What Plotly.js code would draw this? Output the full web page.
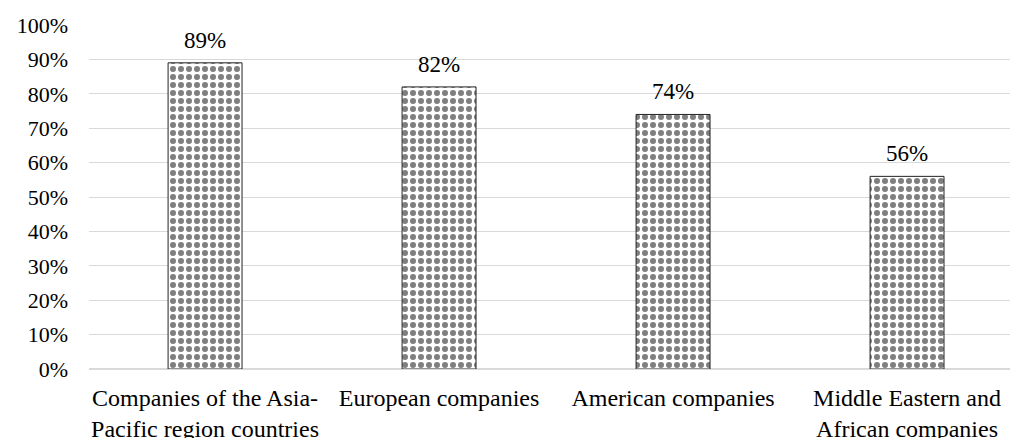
<!DOCTYPE html>
<html>
<head>
<meta charset="utf-8">
<script src="https://cdn.plot.ly/plotly-3.0.1.min.js"></script>
<style>html,body{margin:0;padding:0;background:#fff;}#chart{width:1010px;height:438px;}</style>
</head>
<body>
<div id="chart"></div>
<script>
const categories = ["Companies of the Asia-<br>Pacific region countries", "European companies", "American companies", "Middle Eastern and<br>African companies"];
const values = [0.89, 0.82, 0.74, 0.56];
const valueLabels = ["89%", "82%", "74%", "56%"];
const yTickVals = [0, 0.1, 0.2, 0.3, 0.4, 0.5, 0.6, 0.7, 0.8, 0.9, 1.0];
const yTickText = ["0%", "10%", "20%", "30%", "40%", "50%", "60%", "70%", "80%", "90%", "100%"];

const FONT = "Liberation Serif";

const trace = {
  type: "bar",
  x: [0, 1, 2, 3],
  y: values,
  width: 0.316,
  marker: {
    color: "white",
    line: {color: "#222", width: 1},
    pattern: {shape: ".", fgcolor: "black", bgcolor: "white", size: 8, solidity: 0.45, fillmode: "overlay"}
  },
  hoverinfo: "none"
};

const annotations = values.map((v, i) => ({
  x: i, y: v, text: valueLabels[i], showarrow: false,
  xref: "x", yref: "y", yanchor: "bottom", yshift: 8,
  font: {family: FONT, size: 23, color: "#000"}
}));

const layout = {
  width: 1010, height: 438,
  margin: {l: 89, r: 0, t: 25, b: 69, pad: 0},
  paper_bgcolor: "#fff", plot_bgcolor: "#fff",
  font: {family: FONT},
  showlegend: false,
  xaxis: {
    range: [-0.496, 3.44],
    tickvals: [0, 1, 2, 3],
    ticktext: categories,
    tickangle: 0,
    showgrid: false, zeroline: false,
    showline: false,
    ticks: "",
    ticklabelstandoff: 12,
    tickfont: {family: FONT, size: 24, color: "#000"},
    fixedrange: true
  },
  yaxis: {
    range: [0, 1],
    tickvals: yTickVals,
    ticktext: yTickText,
    showgrid: true, gridcolor: "#d9d9d9", gridwidth: 1,
    zeroline: true, zerolinecolor: "#d9d9d9", zerolinewidth: 2,
    showline: false, ticks: "",
    ticklabelstandoff: 20,
    tickfont: {family: FONT, size: 22, color: "#000"},
    fixedrange: true
  },
  annotations: annotations,
  bargap: 0
};

Plotly.newPlot("chart", [trace], layout, {displayModeBar: false, staticPlot: true});
</script>
</body>
</html>
